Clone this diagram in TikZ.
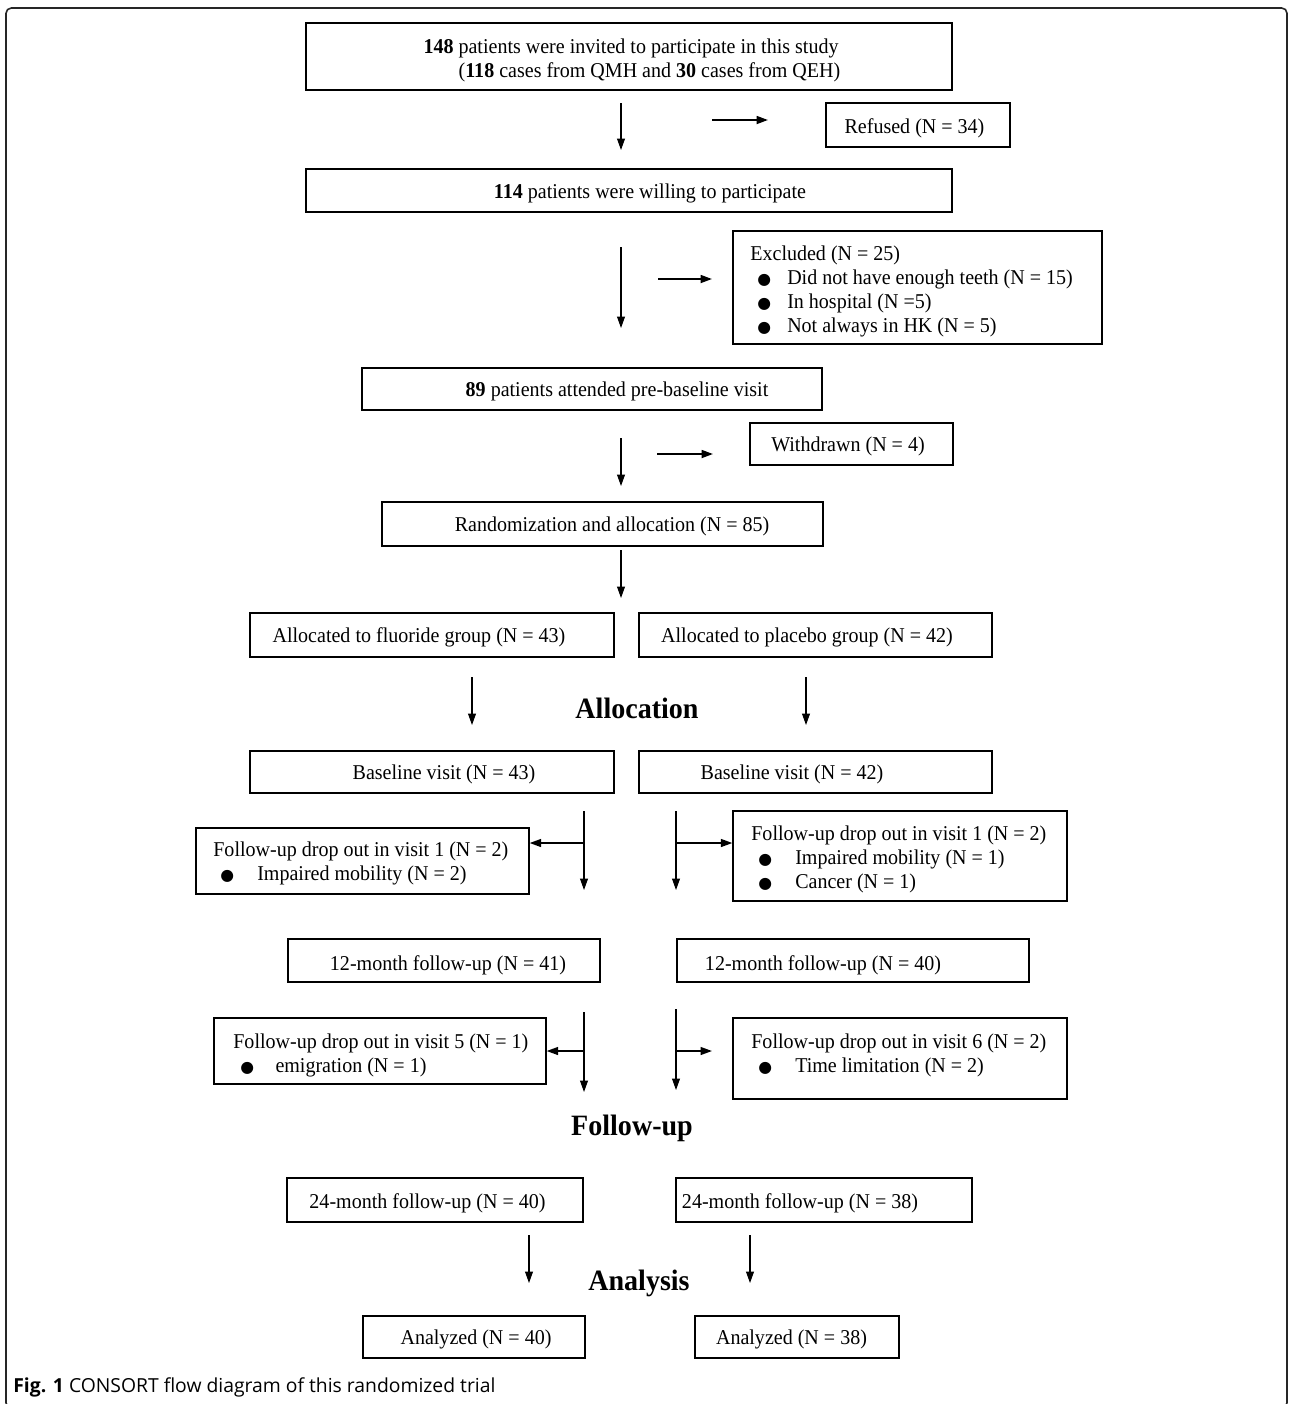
\documentclass[tikz,border=0pt]{standalone}
\usepackage{fontspec}
\setmainfont{Liberation Serif}[FakeStretch=0.95]
\newfontfamily\capfont{Open Sans}
\newfontfamily\dotfont{DejaVu Sans}
\usetikzlibrary{arrows.meta}

% bullet line inside a list box
\newcommand{\bitem}[2][21pt]{\hspace*{4pt}\makebox[#1][l]{\dotfont\fontsize{9}{9}\selectfont ●}#2}

\begin{document}
\begin{tikzpicture}[x=0.02cm, y=-0.02cm,
    box/.style={draw, rectangle, line width=0.8pt, inner sep=0pt},
    txt/.style={inner sep=0pt, yshift=-1.6pt, font=\fontsize{12}{13.6}\selectfont},
    lst/.style={txt, align=left, anchor=north west},
    stage/.style={inner sep=0pt, font=\fontsize{16.8}{18}\selectfont\bfseries},
    arr/.style={-{Triangle[length=6.5pt,width=4.5pt]}, line width=0.6pt},
    harr/.style={arr, line width=1.1pt}]

    \useasboundingbox (0,0) rectangle (1289,1404);

    % Cornice della figura
    \draw[line width=0.9pt, rounded corners=3pt, black!85] (6,8) rectangle (1287,1408);

    % Invitati
    \node[box, minimum width=12.92cm, minimum height=1.34cm] (invited) at (629,56.5) {};
    \node[txt, align=center] (invitedT) at (631,57.5) {\textbf{148} patients were invited to participate in this study\\ \hspace*{21pt}(\textbf{118} cases from QMH and \textbf{30} cases from QEH)};

    % Rifiuti
    \coordinate (v1a) at (621,103); \coordinate (v1b) at (621,150);
    \draw[arr] (v1a) -- (v1b);
    \coordinate (h1a) at (712,120); \coordinate (h1b) at (768,120);
    \draw[harr] (h1a) -- (h1b);
    \node[box, minimum width=3.68cm, minimum height=0.88cm] (refused) at (918,125) {};
    \node[txt] (refusedT) at (914.5,126) {Refused (N = 34)};

    % Disponibili
    \node[box, minimum width=12.92cm, minimum height=0.86cm] (willing) at (629,190.5) {};
    \node[txt] (willingT) at (650,191) {\textbf{114} patients were willing to participate};

    % Esclusi
    \coordinate (v2a) at (621,247); \coordinate (v2b) at (621,328);
    \draw[arr] (v2a) -- (v2b);
    \coordinate (h2a) at (658,279); \coordinate (h2b) at (712,279);
    \draw[harr] (h2a) -- (h2b);
    \node[box, minimum width=7.38cm, minimum height=2.26cm] (excluded) at (917.5,287.5) {};
    \node[lst] (excludedT) at (750,243) {Excluded (N = 25)\\ \bitem[17pt]{Did not have enough teeth (N = 15)}\\ \bitem[17pt]{In hospital (N =5)}\\ \bitem[17pt]{Not always in HK (N = 5)}};

    % Visita pre-baseline
    \node[box, minimum width=9.2cm, minimum height=0.84cm] (prebase) at (592,389) {};
    \node[txt] (prebaseT) at (617,389) {\textbf{89} patients attended pre-baseline visit};

    % Ritirati
    \coordinate (v3a) at (621,438); \coordinate (v3b) at (621,486);
    \draw[arr] (v3a) -- (v3b);
    \coordinate (h3a) at (657,454); \coordinate (h3b) at (713,454);
    \draw[harr] (h3a) -- (h3b);
    \node[box, minimum width=4.06cm, minimum height=0.84cm] (withdrawn) at (851.5,444) {};
    \node[txt] (withdrawnT) at (848,444) {Withdrawn (N = 4)};

    % Randomizzazione
    \node[box, minimum width=8.82cm, minimum height=0.88cm] (random) at (602.5,524) {};
    \node[txt] (randomT) at (612,524) {Randomization and allocation (N = 85)};
    \coordinate (v4a) at (621,550); \coordinate (v4b) at (621,598);
    \draw[arr] (v4a) -- (v4b);

    % Gruppi
    \node[box, minimum width=7.28cm, minimum height=0.88cm] (fluor) at (432,635) {};
    \node[txt] (fluorT) at (419,635) {Allocated to fluoride group (N = 43)};
    \node[box, minimum width=7.06cm, minimum height=0.88cm] (placebo) at (815.5,635) {};
    \node[txt] (placeboT) at (807,635) {Allocated to placebo group (N = 42)};
    \coordinate (v5a) at (472,677); \coordinate (v5b) at (472,725);
    \draw[arr] (v5a) -- (v5b);
    \coordinate (v6a) at (806,677); \coordinate (v6b) at (806,725);
    \draw[arr] (v6a) -- (v6b);
    \node[stage] (allocT) at (637,708) {Allocation};

    % Baseline
    \node[box, minimum width=7.28cm, minimum height=0.84cm] (baseF) at (432,772) {};
    \node[txt] (baseFT) at (444,772) {Baseline visit (N = 43)};
    \node[box, minimum width=7.06cm, minimum height=0.84cm] (baseP) at (815.5,772) {};
    \node[txt] (basePT) at (792,772) {Baseline visit (N = 42)};

    % Abbandoni visita 1
    \node[box, minimum width=6.66cm, minimum height=1.32cm] (dropF1) at (362.5,861) {};
    \node[lst] (dropF1T) at (213,839) {Follow-up drop out in visit 1 (N = 2)\\ \bitem{Impaired mobility (N = 2)}};
    \node[box, minimum width=6.68cm, minimum height=1.8cm] (dropP1) at (900,856) {};
    \node[lst] (dropP1T) at (751,823) {Follow-up drop out in visit 1 (N = 2)\\ \bitem{Impaired mobility (N = 1)}\\ \bitem{Cancer (N = 1)}};
    \coordinate (vF1a) at (584,811); \coordinate (vF1b) at (584,890);
    \draw[arr] (vF1a) -- (vF1b);
    \coordinate (hF1) at (584,843);
    \draw[arr, line width=0.9pt] (hF1) -- (hF1 -| dropF1.east);
    \coordinate (vP1a) at (676,811); \coordinate (vP1b) at (676,890);
    \draw[arr] (vP1a) -- (vP1b);
    \coordinate (hP1) at (676,843);
    \draw[arr, line width=0.9pt] (hP1) -- (hP1 -| dropP1.west);

    % 12 mesi
    \node[box, minimum width=6.24cm, minimum height=0.86cm] (monthF) at (444,960.5) {};
    \node[txt] (monthFT) at (448,962) {12-month follow-up (N = 41)};
    \node[box, minimum width=7.04cm, minimum height=0.86cm] (monthP) at (853,960.5) {};
    \node[txt] (monthPT) at (823,962) {12-month follow-up (N = 40)};

    % Abbandoni visite 5 e 6
    \node[box, minimum width=6.64cm, minimum height=1.32cm] (dropF5) at (380,1051) {};
    \node[lst] (dropF5T) at (233,1031) {Follow-up drop out in visit 5 (N = 1)\\ \bitem[20pt]{emigration (N = 1)}};
    \node[box, minimum width=6.68cm, minimum height=1.62cm] (dropP6) at (900,1058.5) {};
    \node[lst] (dropP6T) at (751,1031) {Follow-up drop out in visit 6 (N = 2)\\ \bitem{Time limitation (N = 2)}};
    \coordinate (vF2a) at (584,1012); \coordinate (vF2b) at (584,1092);
    \draw[arr] (vF2a) -- (vF2b);
    \coordinate (hF2) at (584,1051);
    \draw[arr, line width=0.9pt] (hF2) -- (hF2 -| dropF5.east);
    \coordinate (vP2a) at (676,1009); \coordinate (vP2b) at (676,1090);
    \draw[arr] (vP2a) -- (vP2b);
    \coordinate (hP2a) at (676,1051); \coordinate (hP2b) at (712,1051);
    \draw[arr, line width=0.9pt] (hP2a) -- (hP2b);
    \node[stage] (followT) at (632,1128) {Follow-up};

    % 24 mesi
    \node[box, minimum width=5.92cm, minimum height=0.88cm] (yearF) at (435,1200) {};
    \node[txt] (yearFT) at (427.5,1200) {24-month follow-up (N = 40)};
    \node[box, minimum width=5.92cm, minimum height=0.88cm] (yearP) at (824,1200) {};
    \node[txt] (yearPT) at (800,1200) {24-month follow-up (N = 38)};
    \coordinate (v7a) at (529,1235); \coordinate (v7b) at (529,1283);
    \draw[arr] (v7a) -- (v7b);
    \coordinate (v8a) at (750,1235); \coordinate (v8b) at (750,1283);
    \draw[arr] (v8a) -- (v8b);
    \node[stage] (analysisT) at (639,1283) {Analysis};

    % Analizzati
    \node[box, minimum width=4.44cm, minimum height=0.84cm] (anaF) at (474,1337) {};
    \node[txt] (anaFT) at (476,1337) {Analyzed (N = 40)};
    \node[box, minimum width=4.08cm, minimum height=0.84cm] (anaP) at (797,1337) {};
    \node[txt] (anaPT) at (791.5,1337) {Analyzed (N = 38)};

    % Didascalia
    \node[inner sep=0pt, anchor=base west, font=\capfont\fontsize{11}{13}\selectfont] (caption) at (13,1392) {\textbf{Fig. 1} CONSORT flow diagram of this randomized trial};

\end{tikzpicture}
\end{document}
